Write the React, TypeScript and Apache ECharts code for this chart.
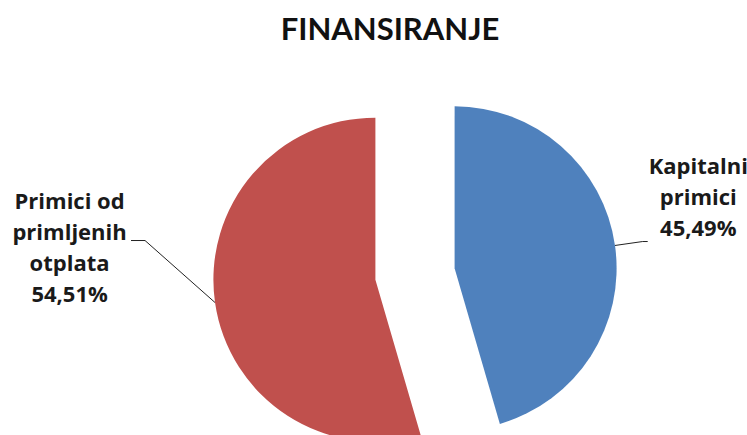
import React, { useEffect, useRef } from "react";
import * as echarts from "echarts";

const titleText = "FINANSIRANJE";
const categories = ["Kapitalni\nprimici", "Primici od\nprimljenih\notplata"];
const values = [45.49, 54.51];
const colors = ["#4F81BD", "#C0504D"];

export default function App() {
  const ref = useRef<HTMLDivElement>(null);
  useEffect(() => {
    document.body.style.margin = "0";
    const chart = echarts.init(ref.current!, null, { renderer: "svg" });
    const fmt = (p: any) =>
      String(p.name)
        .split("\n")
        .map((s: string) => `{a|${s}}`)
        .join("\n") +
      `\n{a|${Number(p.value).toFixed(2).replace(".", ",")}%}`;
    chart.setOption({
      animation: false,
      backgroundColor: "#ffffff",
      title: {
        text: titleText,
        left: 390,
        top: 12,
        padding: 0,
        textAlign: "center",
        textStyle: {
          fontFamily: "Lato",
          fontWeight: "bold",
          fontSize: 31,
          color: "#111111",
        },
      },
      series: [
        {
          type: "pie",
          center: [415, 274],
          radius: 162,
          startAngle: 90,
          clockwise: true,
          selectedMode: "multiple",
          selectedOffset: 40,
          avoidLabelOverlap: false,
          emphasis: { disabled: true },
          label: {
            show: true,
            position: "outside",
            formatter: fmt,
            rich: {
              a: {
                fontFamily: "Open Sans",
                fontWeight: "bold",
                fontSize: 22,
                lineHeight: 31,
                color: "#1a1a1a",
                align: "center",
              },
            },
          },
          labelLine: {
            show: true,
            lineStyle: { color: "#222222", width: 1 },
          },
          labelLayout: (params: any) => {
            const pts = params.labelLinePoints;
            if (params.dataIndex === 0) {
              return { dy: -46, labelLinePoints: pts };
            }
            if (pts) {
              const s = pts[0];
              return {
                dy: -66,
                labelLinePoints: [
                  s,
                  [s[0] - 70, s[1] - 62],
                  [s[0] - 84, s[1] - 62],
                ],
              };
            }
            return { dy: -66 };
          },
          data: categories.map((name, i) => ({
            name,
            value: values[i],
            selected: true,
            itemStyle: { color: colors[i] },
            label: { distanceToLabelLine: i === 0 ? 1 : 5 },
            labelLine: i === 0 ? { length: 28, length2: 5 } : { length: 70, length2: 14 },
          })),
        },
      ],
    });
    return () => chart.dispose();
  }, []);
  return <div ref={ref} style={{ width: 747, height: 435 }} />;
}
